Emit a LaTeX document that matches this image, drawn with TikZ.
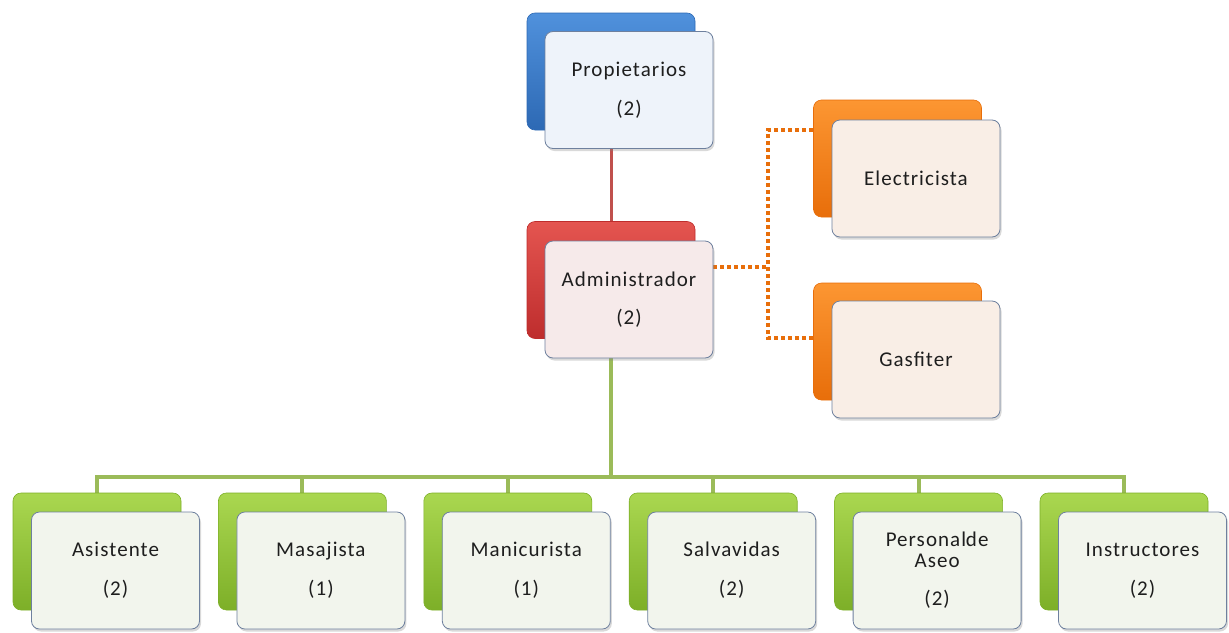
\documentclass[tikz,border=0pt]{standalone}
\usepackage{fontspec}
\newfontfamily\boxfont[LetterSpace=5]{Carlito}
\usetikzlibrary{shapes, shadows, backgrounds}

\definecolor{txt}{RGB}{30,30,30}
\definecolor{frame}{RGB}{110,128,158}
\definecolor{blueT}{RGB}{80,145,220}
\definecolor{blueD}{RGB}{45,105,180}
\definecolor{blueL}{RGB}{238,243,250}
\definecolor{redT}{RGB}{228,85,80}
\definecolor{redD}{RGB}{190,45,45}
\definecolor{redL}{RGB}{246,234,234}
\definecolor{orT}{RGB}{252,150,50}
\definecolor{orD}{RGB}{232,110,10}
\definecolor{orL}{RGB}{249,238,230}
\definecolor{grT}{RGB}{170,215,80}
\definecolor{grD}{RGB}{125,175,40}
\definecolor{grL}{RGB}{242,245,237}
\definecolor{grLine}{RGB}{155,187,89}
\definecolor{rdLine}{RGB}{192,80,77}

\begin{document}
\begin{tikzpicture}[x=1pt, y=-1pt,
  back/.style={rectangle, rounded corners=8pt, minimum width=168pt,
    minimum height=117pt, inner sep=0pt, line width=.6pt},
  front/.style={rectangle, rounded corners=8pt, draw=frame, line width=.8pt,
    minimum width=168pt, minimum height=117pt, inner sep=0pt, align=center,
    text=txt, font=\boxfont\fontsize{21}{21}\selectfont,
    drop shadow={shadow xshift=1.5pt, shadow yshift=-2.5pt, opacity=.3}},
  blueB/.style={back, top color=blueT, bottom color=blueD, draw=blueD},
  redB/.style={back, top color=redT, bottom color=redD, draw=redD},
  orB/.style={back, top color=orT, bottom color=orD, draw=orD},
  grB/.style={back, top color=grT, bottom color=grD, draw=grD},
  solidline/.style={line width=4pt, grLine},
  dotline/.style={line width=4pt, orD, dash pattern=on 4pt off 3pt}]

  \useasboundingbox (0,0) rectangle (1229,632);

  % top of the chart
  \node[blueB] (propB) at (611,71.5) {};
  \node[front, fill=blueL] (prop) at ([shift={(18,18.5)}]propB.center) {Propietarios\\[18pt](2)};
  \node[redB] (admB) at (611,280) {};
  \node[front, fill=redL] (adm) at ([shift={(18,19.5)}]admB.center) {Administrador\\[17pt](2)};

  % support staff
  \node[orB] (elecB) at (897.5,158.5) {};
  \node[front, fill=orL] (elec) at ([shift={(18.5,20)}]elecB.center) {Electricista};
  \node[orB] (gasB) at (897.5,341.5) {};
  \node[front, fill=orL] (gas) at ([shift={(18.5,18)}]gasB.center) {Gasfiter};

  % staff row
  \foreach \n/\t [count=\i from 0] in {asis/{Asistente\\[18pt](2)},
      masa/{Masajista\\[18pt](1)}, mani/{Manicurista\\[18pt](1)},
      salv/{Salvavidas\\[18pt](2)}, aseo/{Personal\hspace{-6pt} de\\Aseo\\[17pt](2)},
      inst/{Instructores\\[18pt](2)}}{
    \node[grB] (\n B) at (97+205.4*\i,551.5) {};
    \node[front, fill=grL] (\n) at ([shift={(18.5,19)}]\n B.center) {\t};
  }

  \coordinate (bus) at (611,477);
  \coordinate (jA) at (768,267);
  \coordinate (jT) at (768,130);
  \coordinate (jB) at (768,338);

  \begin{scope}[on background layer]
    \draw[line width=3pt, rdLine] (propB.south) -- (admB.north);
    \draw[solidline] (admB.south) -- (bus);
    \foreach \n in {asis, masa, mani, salv, aseo, inst}
      \draw[solidline] (bus) -| (\n B.north);
    \draw[dotline] (adm.east |- jA) -- (jA);
    \draw[dotline] (elecB.west |- jT) -- (jT) -- (jB) -- (gasB.west |- jB);
  \end{scope}
\end{tikzpicture}
\end{document}
